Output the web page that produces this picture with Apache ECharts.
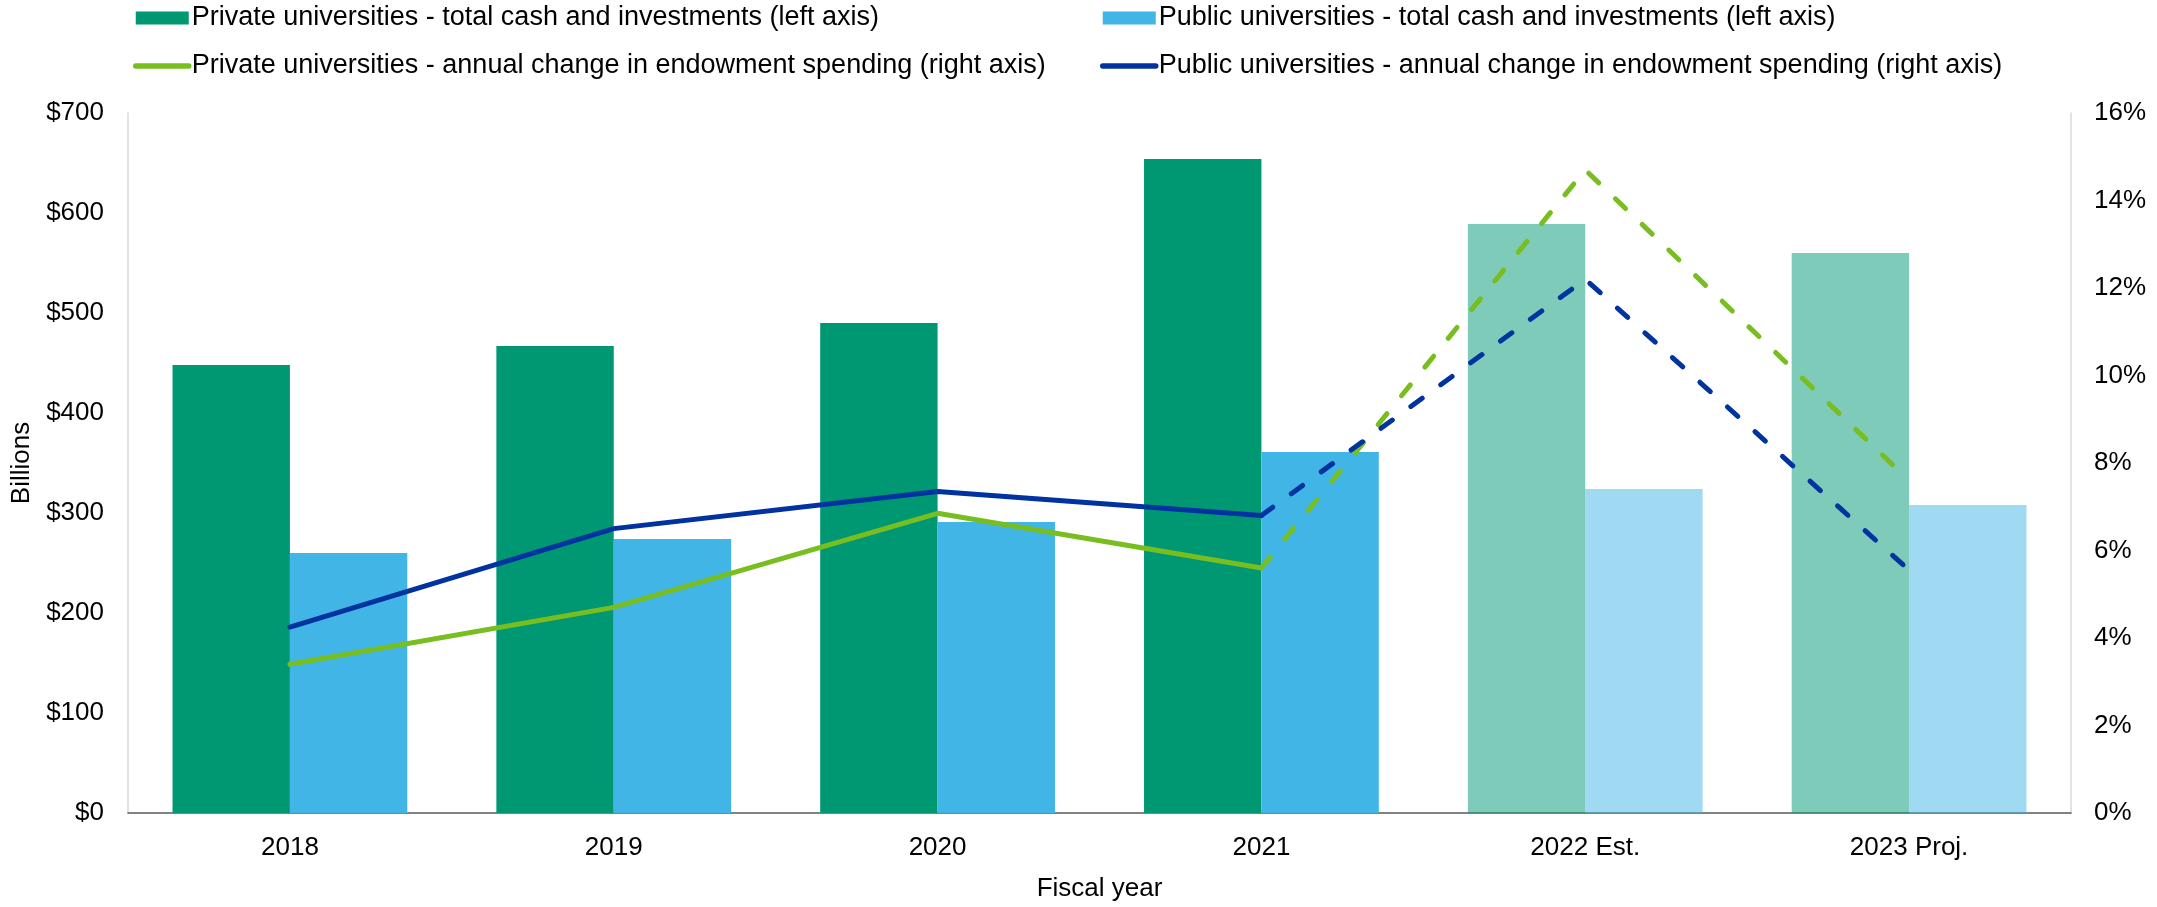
<!DOCTYPE html>
<html>
<head>
<meta charset="utf-8">
<title>University cash, investments and endowment spending</title>
<script src="https://cdn.jsdelivr.net/npm/echarts@6/dist/echarts.min.js"></script>
<style>
  html, body { margin: 0; padding: 0; background: #ffffff; }
  #chart { width: 2157px; height: 907px; }
</style>
</head>
<body>
<div id="chart"></div>
<script>
// Fiscal years on the category axis
const fiscalYears = ['2018', '2019', '2020', '2021', '2022 Est.', '2023 Proj.'];
// Years that are estimates/projections (drawn faded and dashed)
const projectedYears = ['2022 Est.', '2023 Proj.'];

// Total cash and investments, $ billions (left axis)
const privateCashInvestments = [448, 467, 490, 654, 589, 560];
const publicCashInvestments = [260, 274, 291, 361, 324, 308];

// Annual change in endowment spending, % (right axis)
const privateSpendingChange = [3.4, 4.7, 6.85, 5.6, 14.7, 7.6];
const publicSpendingChange = [4.25, 6.5, 7.35, 6.8, 12.2, 5.55];

// Axis tick settings
const leftAxisMax = 700, leftAxisStep = 100;
const rightAxisMax = 16, rightAxisStep = 2;

const names = {
  privBar: 'Private universities - total cash and investments (left axis)',
  pubBar: 'Public universities - total cash and investments (left axis)',
  privLine: 'Private universities - annual change in endowment spending (right axis)',
  pubLine: 'Public universities - annual change in endowment spending (right axis)'
};

const colors = {
  privBar: '#009873',
  pubBar: '#41b6e6',
  privLine: '#78be20',
  pubLine: '#0032a0'
};

const FONT = '"Liberation Sans", Arial, sans-serif';
const firstProjected = fiscalYears.indexOf(projectedYears[0]);

// Bars: projected years drawn at half opacity
function barData(values) {
  return values.map((v, i) => ({
    value: v,
    itemStyle: { opacity: projectedYears.includes(fiscalYears[i]) ? 0.5 : 1 }
  }));
}
// Actual segment of a line: up to the last actual year
function actualPart(values) {
  return values.map((v, i) => (i < firstProjected ? v : null));
}
// Projected segment: from the last actual year onward
function projectedPart(values) {
  return values.map((v, i) => (i >= firstProjected - 1 ? v : null));
}

const lineWidth = 5;
const dashPattern = [14, 23];

// Legend entry for a line series: thick rounded stroke, no marker
function lineLegendItem(name, color) {
  return {
    name: name,
    itemStyle: { opacity: 0 },
    lineStyle: { color: color, width: 5.5, cap: 'round', type: 'solid' }
  };
}

const legendText = {
  fontFamily: FONT, fontSize: 27, color: '#000000',
  lineHeight: 28, padding: [0, 0, 0, -2]
};

const chart = echarts.init(document.getElementById('chart'), null, { renderer: 'canvas' });

chart.setOption({
  backgroundColor: '#ffffff',
  animation: false,
  textStyle: { fontFamily: FONT, color: '#000000' },
  legend: [
    {
      orient: 'vertical',
      left: 133,
      top: 4,
      padding: 0,
      itemWidth: 53,
      itemHeight: 13,
      itemGap: 20,
      textStyle: legendText,
      data: [
        { name: names.privBar, icon: 'rect' },
        lineLegendItem(names.privLine, colors.privLine)
      ]
    },
    {
      orient: 'vertical',
      left: 1100,
      top: 4,
      padding: 0,
      itemWidth: 53,
      itemHeight: 13,
      itemGap: 20,
      textStyle: legendText,
      data: [
        { name: names.pubBar, icon: 'rect' },
        lineLegendItem(names.pubLine, colors.pubLine)
      ]
    }
  ],
  grid: { left: 128, right: 86, top: 113, bottom: 84 },
  xAxis: {
    type: 'category',
    data: fiscalYears,
    name: 'Fiscal year',
    nameLocation: 'middle',
    nameGap: 63,
    nameTextStyle: { fontFamily: FONT, fontSize: 26, color: '#000000' },
    axisLine: { show: true, lineStyle: { color: '#595959', width: 1.5 } },
    axisTick: { show: false },
    axisLabel: { fontFamily: FONT, fontSize: 26, color: '#000000', margin: 22 },
    splitLine: { show: false }
  },
  yAxis: [
    {
      type: 'value',
      min: 0,
      max: leftAxisMax,
      interval: leftAxisStep,
      name: 'Billions',
      nameLocation: 'middle',
      nameGap: 82,
      nameRotate: 90,
      nameTextStyle: { fontFamily: FONT, fontSize: 26, color: '#000000' },
      axisLine: { show: true, lineStyle: { color: '#d9d9d9', width: 1.5 } },
      axisTick: { show: false },
      splitLine: { show: false },
      axisLabel: {
        fontFamily: FONT, fontSize: 26, color: '#000000', margin: 24,
        formatter: v => '$' + v
      }
    },
    {
      type: 'value',
      min: 0,
      max: rightAxisMax,
      interval: rightAxisStep,
      position: 'right',
      axisLine: { show: true, lineStyle: { color: '#d9d9d9', width: 1.5 } },
      axisTick: { show: false },
      splitLine: { show: false },
      axisLabel: {
        fontFamily: FONT, fontSize: 26, color: '#000000', margin: 23,
        formatter: v => v + '%'
      }
    }
  ],
  series: [
    {
      name: names.privBar,
      type: 'bar',
      yAxisIndex: 0,
      data: barData(privateCashInvestments),
      itemStyle: { color: colors.privBar },
      barGap: '0%',
      barCategoryGap: '27.5%'
    },
    {
      name: names.pubBar,
      type: 'bar',
      yAxisIndex: 0,
      data: barData(publicCashInvestments),
      itemStyle: { color: colors.pubBar },
      barGap: '0%',
      barCategoryGap: '27.5%'
    },
    {
      name: names.privLine,
      type: 'line',
      yAxisIndex: 1,
      data: actualPart(privateSpendingChange),
      symbol: 'none',
      z: 5,
      itemStyle: { color: colors.privLine },
      lineStyle: { color: colors.privLine, width: lineWidth, cap: 'round', join: 'round' }
    },
    {
      name: 'Private universities - projected change',
      type: 'line',
      yAxisIndex: 1,
      data: projectedPart(privateSpendingChange),
      symbol: 'none',
      z: 5,
      itemStyle: { color: colors.privLine },
      lineStyle: { color: colors.privLine, width: lineWidth, type: dashPattern, cap: 'round', join: 'round' }
    },
    {
      name: names.pubLine,
      type: 'line',
      yAxisIndex: 1,
      data: actualPart(publicSpendingChange),
      symbol: 'none',
      z: 6,
      itemStyle: { color: colors.pubLine },
      lineStyle: { color: colors.pubLine, width: lineWidth, cap: 'round', join: 'round' }
    },
    {
      name: 'Public universities - projected change',
      type: 'line',
      yAxisIndex: 1,
      data: projectedPart(publicSpendingChange),
      symbol: 'none',
      z: 6,
      itemStyle: { color: colors.pubLine },
      lineStyle: { color: colors.pubLine, width: lineWidth, type: dashPattern, cap: 'round', join: 'round' }
    }
  ]
});
</script>
</body>
</html>
